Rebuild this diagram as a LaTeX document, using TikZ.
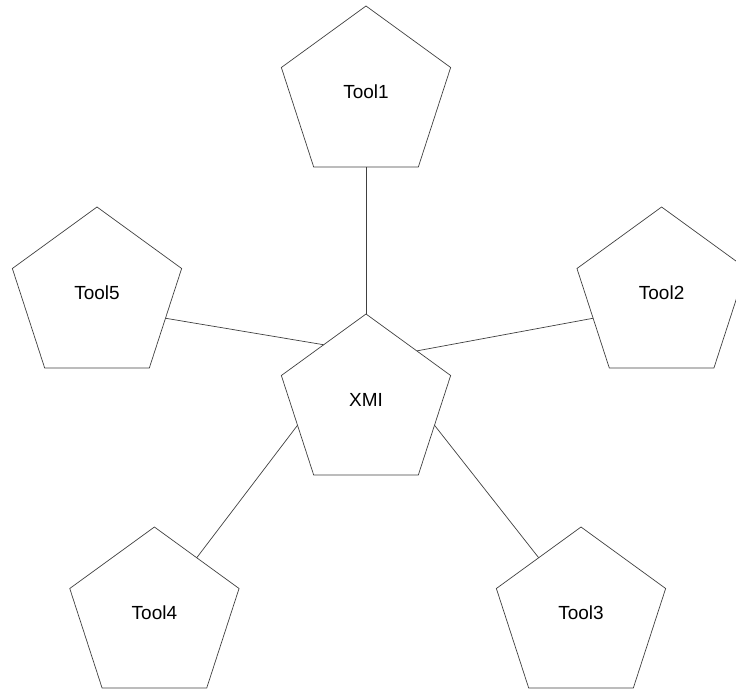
\documentclass[tikz,border=0pt]{standalone}
\usepackage{fontspec}
\setmainfont{Liberation Sans}
\usetikzlibrary{shapes.geometric,calc}

\begin{document}
\begin{tikzpicture}[
  pent/.style={draw=black!75, line width=0.5pt, regular polygon, regular polygon sides=5,
    minimum size=4.45cm, inner sep=0pt, outer sep=0pt, text depth=0.175cm,
    font=\fontsize{13.5}{16}\selectfont},
  link/.style={draw=black!75, line width=0.5pt}]
\useasboundingbox (0,0) rectangle (18.4,17.225);
\clip (0,0) rectangle (18.4,17.225);
% Pentagons
\node[pent] (XMI) at (9.15,7.15) {XMI};
\node[pent] (Tool1) at (9.15,14.85) {Tool1};
\node[pent] (Tool2) at (16.54,9.825) {Tool2};
\node[pent] (Tool3) at (14.525,1.825) {Tool3};
\node[pent] (Tool4) at (3.86,1.825) {Tool4};
\node[pent] (Tool5) at (2.425,9.825) {Tool5};

% Links
\draw[link] (Tool1.side 3) -- (XMI.corner 1);
\draw[link] (Tool2.side 2) -- ($(XMI.corner 1)!0.6!(XMI.corner 5)$);
\draw[link] (XMI.side 4) -- (Tool3.side 1);
\draw[link] (XMI.side 2) -- (Tool4.side 5);
\draw[link] (Tool5.side 4) -- (XMI.side 1);
\end{tikzpicture}
\end{document}
